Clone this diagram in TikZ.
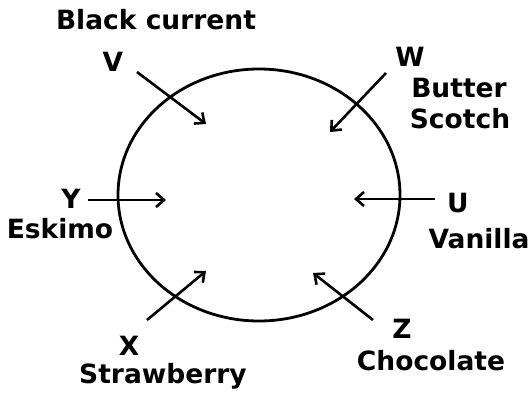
\documentclass[tikz,border=0pt]{standalone}
\usepackage{fontspec}
\setmainfont{DejaVu Sans}
\usetikzlibrary{arrows.meta}
\begin{document}
\begin{tikzpicture}[x=1pt,y=-1pt,
  lbl/.style={anchor=base,inner sep=0pt,font=\bfseries\fontsize{26.5}{28}\selectfont,text=black},
  arr/.style={line width=2.6pt,-{Straight Barb[length=8pt,width=14pt,line width=2.6pt]}},
  ring/.style={line width=2.8pt}]
\useasboundingbox (0,0) rectangle (532,395);
\draw[ring] (259,195) ellipse [x radius=141, y radius=126];
% labels
\node[lbl] (bc) at (156,30) {Black current};
\node[lbl] (v) at (113,72) {V};
\node[lbl] (w) at (410,67) {W};
\node[lbl] (bu) at (459,98) {Butter};
\node[lbl] (sc) at (460,129) {Scotch};
\node[lbl] (y) at (71,209) {Y};
\node[lbl] (es) at (60,238) {Eskimo};
\node[lbl] (u) at (458,213) {U};
\node[lbl] (va) at (479,248) {Vanilla};
\node[lbl] (x) at (129,355) {X};
\node[lbl] (st) at (163,383) {Strawberry};
\node[lbl] (z) at (402,338) {Z};
\node[lbl] (ch) at (431,370) {Chocolate};
% arrow ends
\coordinate (v1) at (137,72);  \coordinate (v2) at (206,124);
\coordinate (w1) at (386,73);  \coordinate (w2) at (330,132);
\coordinate (y1) at (88,200);  \coordinate (y2) at (166,200);
\coordinate (u1) at (435,199); \coordinate (u2) at (354,199);
\coordinate (x1) at (147,320); \coordinate (x2) at (206,271);
\coordinate (z1) at (373,320); \coordinate (z2) at (313,273);
\draw[arr] (v1) -- (v2);
\draw[arr] (w1) -- (w2);
\draw[arr] (y1) -- (y2);
\draw[arr] (u1) -- (u2);
\draw[arr] (x1) -- (x2);
\draw[arr] (z1) -- (z2);
\end{tikzpicture}
\end{document}
